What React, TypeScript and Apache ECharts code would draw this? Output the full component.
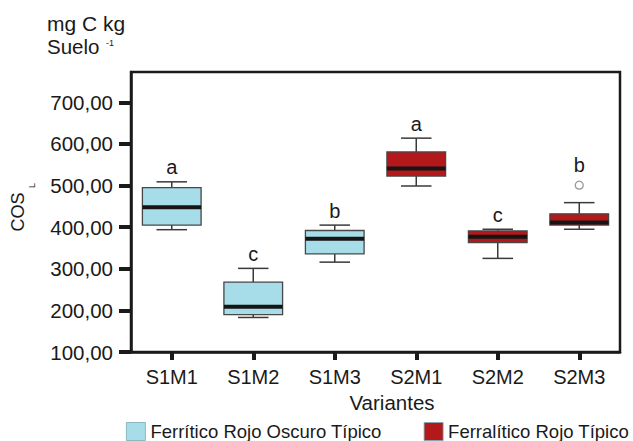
import React, { useEffect, useRef } from "react";
import * as echarts from "echarts";

const categories = ["S1M1", "S1M2", "S1M3", "S2M1", "S2M2", "S2M3"];
const whiskerLow = [394, 183, 316, 499, 325, 395];
const q1 = [405, 190, 336, 523, 363, 405];
const median = [448, 209, 372, 541, 377, 411];
const q3 = [495, 268, 392, 581, 391, 432];
const whiskerHigh = [509, 301, 405, 614, 395, 459];
const outliers: [number, number][] = [[5, 501]];
const letters = ["a", "c", "b", "a", "c", "b"];
const yTicks = [100, 200, 300, 400, 500, 600, 700];
const seriesNames = ["Ferrítico Rojo Oscuro Típico", "Ferralítico Rojo Típico"];
const seriesColors = ["#a6dde9", "#b3191b"];
const seriesGroups = [[0, 1, 2], [3, 4, 5]];

const FONT = "Liberation Sans, Arial, sans-serif";
const INK = "#1a1a1a";

function renderBox(params: any, api: any) {
  const i = api.value(0);
  const lo = api.coord([i, api.value(1)]);
  const pq1 = api.coord([i, api.value(2)]);
  const pmed = api.coord([i, api.value(3)]);
  const pq3 = api.coord([i, api.value(4)]);
  const hi = api.coord([i, api.value(5)]);
  const band = api.size([1, 0])[0];
  const bw = band * 0.72;
  const cap = bw * 0.52;
  const cx = lo[0];
  const color = api.visual("color");
  const wStyle = { stroke: "#3a3a3a", lineWidth: 1.5 };
  const out = outliers.find((o) => o[0] === i);
  const letterY = out ? api.coord([i, out[1]])[1] - 20 : hi[1] - 14.5;
  return {
    type: "group",
    children: [
      { type: "line", shape: { x1: cx, y1: hi[1], x2: cx, y2: pq3[1] }, style: wStyle },
      { type: "line", shape: { x1: cx - cap / 2, y1: hi[1], x2: cx + cap / 2, y2: hi[1] }, style: wStyle },
      { type: "line", shape: { x1: cx, y1: lo[1], x2: cx, y2: pq1[1] }, style: wStyle },
      { type: "line", shape: { x1: cx - cap / 2, y1: lo[1], x2: cx + cap / 2, y2: lo[1] }, style: wStyle },
      {
        type: "rect",
        shape: { x: cx - bw / 2, y: pq3[1], width: bw, height: pq1[1] - pq3[1] },
        style: { fill: color, stroke: "#474747", lineWidth: 1.3 },
      },
      {
        type: "rect",
        shape: { x: cx - bw / 2, y: pmed[1] - 2, width: bw, height: 4 },
        style: { fill: "#151515" },
      },
      {
        type: "text",
        x: cx,
        y: letterY,
        style: {
          text: letters[i],
          fontSize: 20,
          fontFamily: FONT,
          fill: INK,
          align: "center",
          verticalAlign: "middle",
        },
      },
    ],
  };
}

export default function App() {
  const ref = useRef<HTMLDivElement>(null);
  useEffect(() => {
    document.body.style.margin = "0";
    const chart = echarts.init(ref.current!, null, { renderer: "svg" });
    const boxSeries = seriesGroups.map((idxs, s) => ({
      type: "custom",
      name: seriesNames[s],
      itemStyle: { color: seriesColors[s] },
      data: idxs.map((i) => [i, whiskerLow[i], q1[i], median[i], q3[i], whiskerHigh[i]]),
      encode: { x: 0, y: [1, 2, 3, 4, 5] },
      renderItem: renderBox,
      z: 2,
    }));
    chart.setOption({
      animation: false,
      grid: {
        left: 131,
        right: 13,
        top: 72,
        bottom: 89,
        show: true,
        borderColor: INK,
        borderWidth: 2.5,
      },
      legend: {
        data: seriesNames.map((n) => ({ name: n, icon: "rect" })),
        left: 126,
        top: 422,
        itemWidth: 19,
        itemHeight: 18,
        itemGap: 42,
        padding: 0,
        selectedMode: false,
        itemStyle: { borderColor: "#7aaab5", borderWidth: 0.8 },
        textStyle: { fontSize: 18.5, color: INK, fontFamily: FONT },
      },
      xAxis: {
        type: "category",
        data: categories,
        boundaryGap: true,
        name: "Variantes",
        nameLocation: "middle",
        nameGap: 40,
        nameTextStyle: { fontSize: 20.5, color: INK, fontFamily: FONT, padding: [0, 0, 0, 33] },
        axisLine: { show: true, lineStyle: { color: INK, width: 2.5 } },
        axisTick: { show: true, alignWithLabel: true, length: 8, lineStyle: { color: INK, width: 4 } },
        axisLabel: { fontSize: 20, color: INK, fontFamily: FONT, margin: 15 },
        splitLine: { show: false },
      },
      yAxis: {
        type: "value",
        min: 100,
        max: 773,
        interval: 100,
        name: "COS",
        nameLocation: "middle",
        nameGap: 104,
        nameTextStyle: { fontSize: 18, color: INK },
        axisLine: { show: true, lineStyle: { color: INK, width: 2.5 } },
        axisTick: { show: true, length: 12, lineStyle: { color: INK, width: 4 }, customValues: yTicks },
        axisLabel: {
          fontSize: 20.5,
          color: INK,
          fontFamily: FONT,
          margin: 18,
          customValues: yTicks,
          formatter: (v: number) => v.toFixed(2).replace(".", ","),
        },
        splitLine: { show: false },
      },
      graphic: [
        {
          type: "text",
          x: 47,
          y: 23,
          style: { text: "mg C kg", fontSize: 21, fontFamily: FONT, fill: INK, verticalAlign: "middle" },
        },
        {
          type: "text",
          x: 47,
          y: 46,
          style: { text: "Suelo", fontSize: 20.5, fontFamily: FONT, fill: INK, verticalAlign: "middle" },
        },
        {
          type: "text",
          x: 106,
          y: 43,
          style: { text: "-1", fontSize: 9, fontFamily: FONT, fill: INK, verticalAlign: "middle" },
        },
        {
          type: "group",
          x: 27,
          y: 188,
          rotation: Math.PI / 2,
          children: [
            {
              type: "text",
              style: { text: "L", fontSize: 9, fill: INK },
            },
          ],
        },
      ],
      series: [
        ...boxSeries,
        {
          type: "scatter",
          name: "atípico",
          data: outliers.map((o) => [o[0], o[1]]),
          symbol: "circle",
          symbolSize: 8,
          itemStyle: { color: "#ffffff", borderColor: "#808080", borderWidth: 1.3 },
          z: 3,
        },
      ],
    });
    return () => chart.dispose();
  }, []);
  return <div ref={ref} style={{ width: 633, height: 441 }} />;
}
